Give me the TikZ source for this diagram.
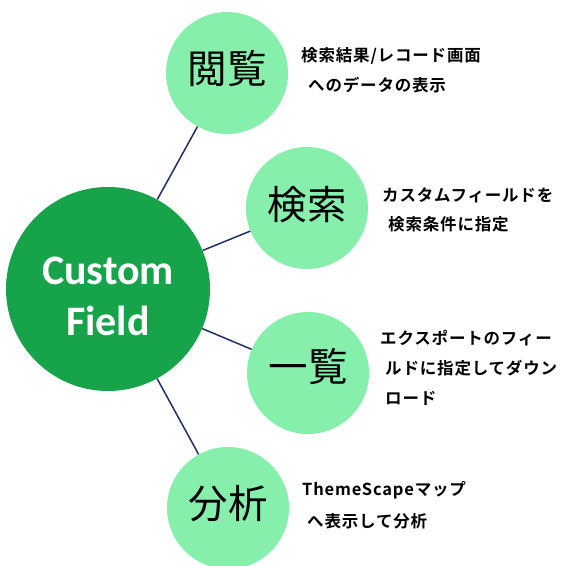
\documentclass[tikz,border=0pt]{standalone}
\usepackage{fontspec}
\newfontfamily\jp{Noto Sans CJK JP}
\newfontfamily\jpb[LetterSpace=5]{Noto Sans CJK JP Bold}
\newfontfamily\carl{Carlito}
\definecolor{bigg}{RGB}{22,163,74}
\definecolor{smallg}{RGB}{134,239,172}
\definecolor{navy}{RGB}{31,48,99}
\tikzset{
  bigc/.style={circle,fill=bigg,minimum size=204pt,inner sep=0pt},
  bigt/.style={text=white,font=\carl\bfseries\fontsize{42}{50}\selectfont,inner sep=0pt},
  smallc/.style={circle,fill=smallg,minimum size=122pt,inner sep=0pt},
  clab/.style={font=\jp\fontsize{39.5}{40}\selectfont,text=black,inner sep=0pt},
  desc/.style={font=\jpb\fontsize{16.5}{30}\selectfont,text=black,anchor=west,inner sep=0pt},
  link/.style={draw=navy,line width=1.5pt}
}
\begin{document}
\begin{tikzpicture}[x=1pt,y=-1pt]
\useasboundingbox[fill=white] (0,0) rectangle (567,565);
\node[bigc] (cf) at (108,289) {};
\node[smallc] (c1) at (227,73) {};
\node[smallc] (c2) at (307,208) {};
\node[smallc] (c3) at (308,373) {};
\node[smallc] (c4) at (228,508) {};
\draw[link] (cf) -- (c1);
\draw[link] (cf) -- (c2);
\draw[link] (cf) -- (c3);
\draw[link] (cf) -- (c4);
\node[bigt] (t1) at (108,271) {Custom};
\node[bigt] (t2) at (108,321) {Field};
\node[clab] (l1) at (227,68) {閲覧};
\node[clab] (l2) at (307,205) {検索};
\node[clab] (l3) at (308,366) {一覧};
\node[clab] (l4) at (228,504) {分析};
\node[desc] (d1a) at (301,56) {検索結果/レコード画面};
\node[desc] (d1b) at (308,85) {へのデータの表示};
\node[desc] (d2a) at (382,195) {カスタムフィールドを};
\node[desc] (d2b) at (388,224) {検索条件に指定};
\node[desc] (d3a) at (380,338) {エクスポートのフィー};
\node[desc] (d3b) at (385,368) {ルドに指定してダウン};
\node[desc] (d3c) at (385,398) {ロード};
\node[desc] (d4a) at (302,490) {ThemeScapeマップ};
\node[desc] (d4b) at (307,521) {へ表示して分析};
\end{tikzpicture}
\end{document}
